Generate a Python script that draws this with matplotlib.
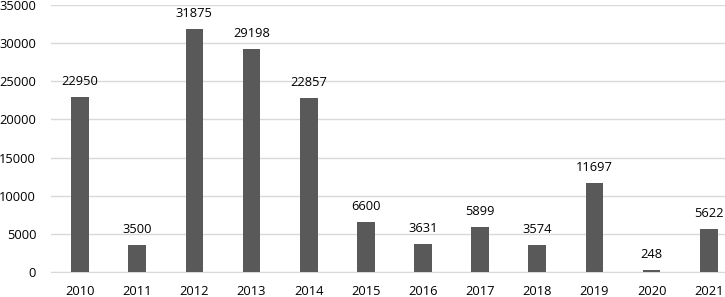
import matplotlib.pyplot as plt
import matplotlib
import numpy as np

matplotlib.rcParams.update({'font.family': ['Open Sans', 'DejaVu Sans'], 'font.size': 9.3})

years = ['2010', '2011', '2012', '2013', '2014', '2015', '2016', '2017', '2018', '2019', '2020', '2021']
values = [22950, 3500, 31875, 29198, 22857, 6600, 3631, 5899, 3574, 11697, 248, 5622]

fig = plt.figure(figsize=(7.25, 2.97), dpi=100)
ax = fig.add_axes([0.071, 0.084, 0.946, 0.899])
x = np.arange(len(years))
ax.bar(x, values, width=0.31, color='#595959', zorder=3)
for xi, v in zip(x, values):
    ax.text(xi, v + 1200, str(v), ha='center', va='bottom', fontsize=9.3, color='#000000')

ax.set_xlim(-0.5, len(years) - 0.5)
ax.set_ylim(0, 35000)
ax.set_yticks(np.arange(0, 35001, 5000))
ax.set_xticks(x)
ax.set_xticklabels(years)
ax.yaxis.grid(True, color='#d9d9d9', linewidth=1, zorder=0)
for s in ['top', 'right', 'left']:
    ax.spines[s].set_visible(False)
ax.spines['bottom'].set_color('#d9d9d9')
ax.tick_params(axis='both', length=0, colors='#000000')
ax.tick_params(axis='x', pad=9)
ax.tick_params(axis='y', pad=11)

fig.savefig('out.png', dpi=100)
